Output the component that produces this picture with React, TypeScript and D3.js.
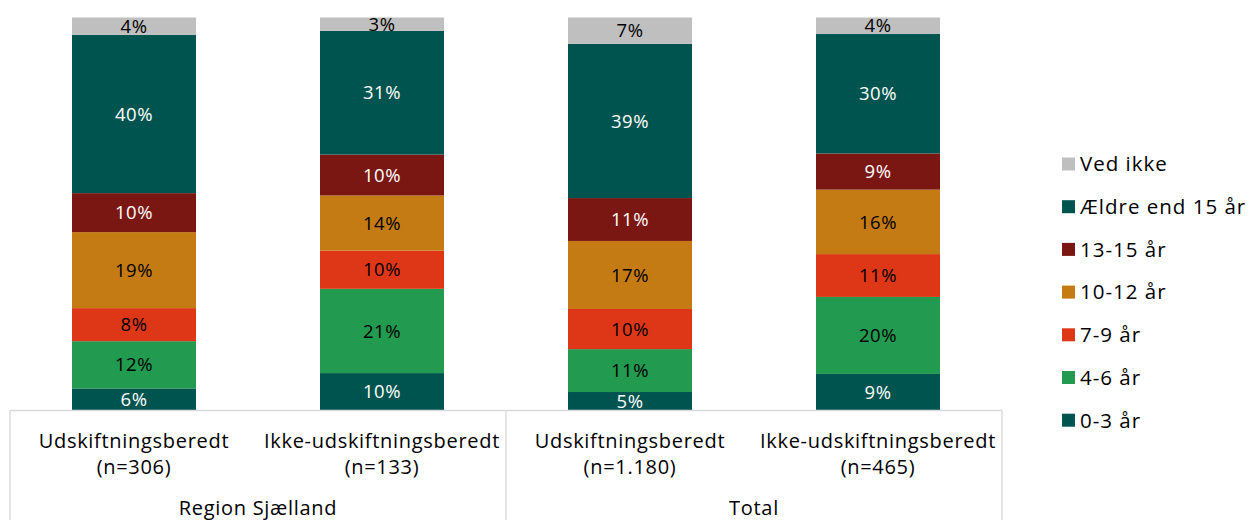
import React from "react";
import * as d3 from "d3";

const categories = ["Udskiftningsberedt|(n=306)", "Ikke-udskiftningsberedt|(n=133)", "Udskiftningsberedt|(n=1.180)", "Ikke-udskiftningsberedt|(n=465)"];
const groups = [
  { name: "Region Sjælland", from: 0, to: 2 },
  { name: "Total", from: 2, to: 4 },
];
const seriesNames = ["0-3 år", "4-6 år", "7-9 år", "10-12 år", "13-15 år", "Ældre end 15 år", "Ved ikke"];
const seriesColors = ["#00544F", "#229A4F", "#DE3718", "#C47B14", "#7B1712", "#00544F", "#BFBFBF"];
const labelColors = ["#fff", "#000", "#000", "#000", "#fff", "#fff", "#000"];
const v03 = [5.6, 9.5, 4.7, 9.3];
const v46 = [12.0, 21.4, 10.9, 19.6];
const v79 = [8.4, 9.7, 10.2, 10.9];
const v1012 = [19.3, 14.0, 17.3, 16.4];
const v1315 = [9.9, 10.4, 10.9, 9.2];
const vOld = [40.2, 31.4, 39.2, 30.4];
const vDontKnow = [4.4, 3.4, 6.7, 4.2];
const seriesValues = [v03, v46, v79, v1012, v1315, vOld, vDontKnow];

const W = 1249, H = 520;
const FONT = "'Open Sans', Lato, sans-serif";

export default function App() {
  const rows = categories.map((c, i) => {
    const r: any = { cat: c };
    seriesNames.forEach((s, j) => (r[s] = seriesValues[j][i]));
    return r;
  });
  const stack = d3.stack<any>().keys(seriesNames).offset(d3.stackOffsetExpand);
  const layers = stack(rows);
  const x = d3.scaleBand<string>().domain(categories).range([10, 1002]).paddingInner(0.5).paddingOuter(0.25);
  const y = d3.scaleLinear().domain([0, 1]).range([410.5, 17.5]);
  const axisY = 410.5;
  const band = x.step();
  return (
    <svg width={W} height={H} style={{ position: "absolute", left: 0, top: 0, fontFamily: FONT }}>
      {layers.map((layer, j) => (
        <g key={j}>
          {layer.map((d, i) => {
            const x0 = x(categories[i])!;
            const y0 = y(d[1]);
            const y1 = y(d[0]);
            return (
              <g key={i}>
                <rect x={x0} y={y0} width={x.bandwidth()} height={y1 - y0} fill={seriesColors[j]} />
                <text x={x0 + x.bandwidth() / 2} y={(y0 + y1) / 2} dy="0.36em" textAnchor="middle" fontSize={18.5} letterSpacing={0.6} fill={labelColors[j]}>
                  {Math.round(seriesValues[j][i]) + "%"}
                </text>
              </g>
            );
          })}
        </g>
      ))}
      <line x1={10} x2={1002} y1={axisY} y2={axisY} stroke="#D9D9D9" strokeWidth={1.3} />
      {[0, 2, 4].map((k) => (
        <line key={k} x1={10 + k * band} x2={10 + k * band} y1={axisY} y2={H} stroke="#D9D9D9" strokeWidth={1.3} />
      ))}
      {categories.map((c, i) => {
        const cx = x(c)! + x.bandwidth() / 2;
        const [l1, l2] = c.split("|");
        return (
          <text key={i} x={cx} textAnchor="middle" fontSize={20} letterSpacing={0.7} fill="#000">
            <tspan x={cx} y={448}>{l1}</tspan>
            <tspan x={cx} y={474}>{l2}</tspan>
          </text>
        );
      })}
      {groups.map((g, i) => (
        <text key={i} x={10 + ((g.from + g.to) / 2) * band} y={515} textAnchor="middle" fontSize={20} letterSpacing={0.7} fill="#000">
          {g.name}
        </text>
      ))}
      {seriesNames.slice().reverse().map((s, k) => {
        const j = seriesNames.length - 1 - k;
        const cy = 164 + k * 42.7;
        return (
          <g key={s}>
            <rect x={1062} y={cy - 6.5} width={13} height={13} fill={seriesColors[j]} />
            <text x={1080} y={cy} dy="0.36em" fontSize={20.5} letterSpacing={1} fill="#000">{s}</text>
          </g>
        );
      })}
    </svg>
  );
}
